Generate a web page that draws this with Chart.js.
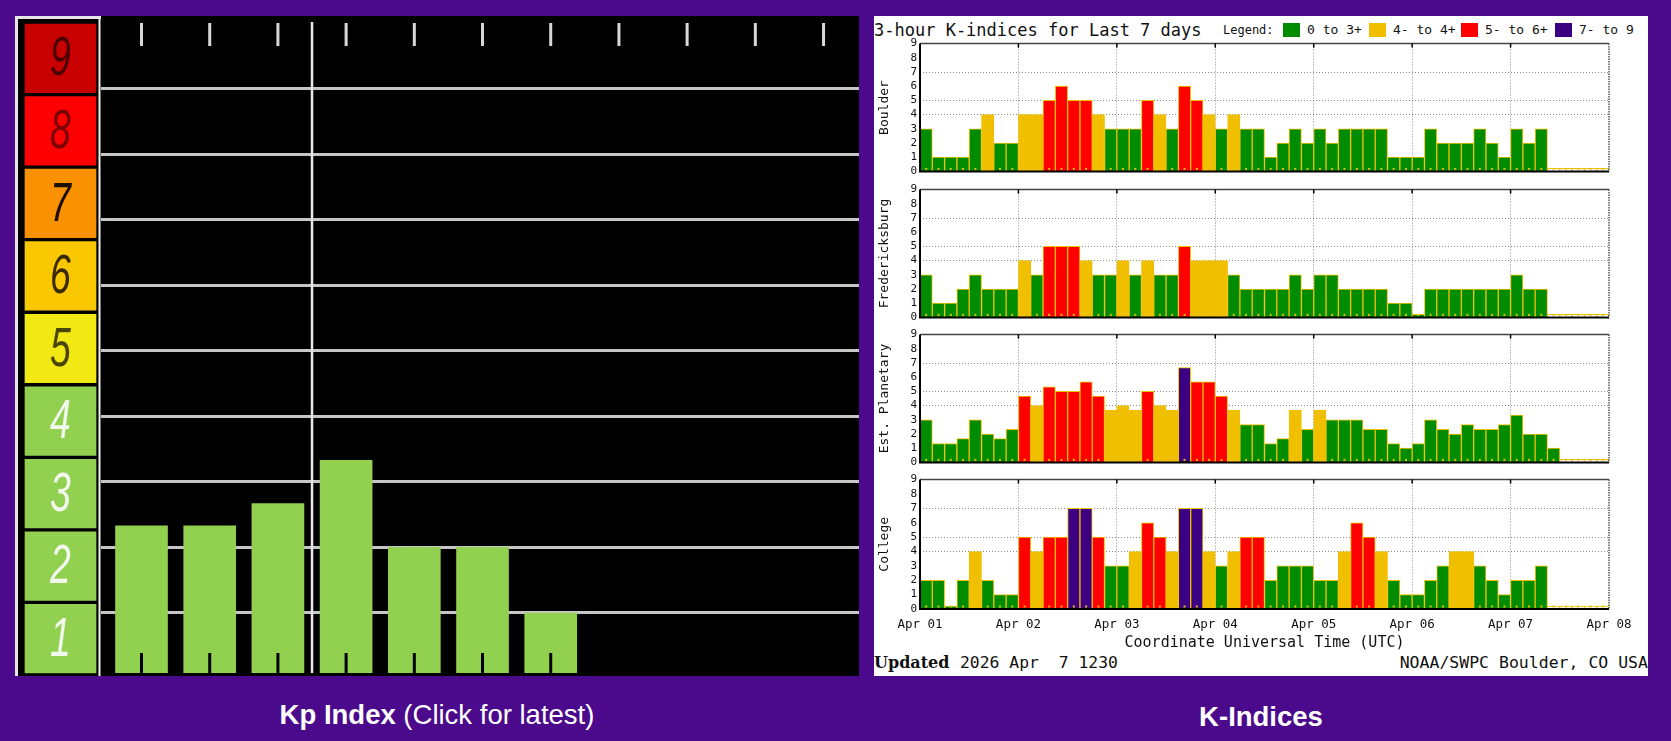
<!DOCTYPE html>
<html>
<head>
<meta charset="utf-8">
<title>Kp Index / K-Indices</title>
<script src="https://cdn.jsdelivr.net/npm/chart.js@4.4.1/dist/chart.umd.min.js"></script>
<style>
  body { margin:0; width:1671px; height:741px; background:#4b0a8b; position:relative; overflow:hidden; font-family:'Liberation Sans', Arial, sans-serif; }
  .abs { position:absolute; }
  .mono { font-family:'DejaVu Sans Mono', monospace; color:#111; white-space:pre; }
  #kpPanel { left:15px; top:16px; width:844px; height:660px; background:#000; }
  #kPanel { left:874px; top:16px; width:774px; height:660px; background:#fff; }
  .caption { color:#fff; font-size:27.5px; text-align:center; line-height:30px; }
</style>
</head>
<body>
<div class="abs" id="kpPanel"></div>
<div class="abs" id="kPanel"></div>
<canvas id="kpScale" class="abs" width="86" height="660" style="left:15px;top:16px"></canvas>
<canvas id="kpChart" class="abs" width="758" height="657" style="left:101px;top:16px"></canvas>

<div class="abs mono" style="left:874px;top:20px;font-size:17px;line-height:20px">3-hour K-indices for Last 7 days</div>
<div class="abs mono" style="left:1223px;top:21px;font-size:12px;line-height:18px">Legend:</div>
<div id="legend"></div>

<div class="abs" style="left:874px;top:653px;font:bold 16px 'DejaVu Serif', serif;line-height:20px;color:#111">Updated</div>
<div class="abs mono" style="left:960px;top:653px;font-size:16.4px;line-height:20px">2026 Apr  7 1230</div>
<div class="abs mono" style="right:23px;top:653px;font-size:16.5px;line-height:20px">NOAA/SWPC Boulder, CO USA</div>

<div class="abs caption" style="left:15px;width:844px;top:700px"><b>Kp Index</b> (Click for latest)</div>
<div class="abs caption" style="left:874px;width:774px;top:702px"><b>K-Indices</b></div>

<script>
// ---- data ----
const dayLabels = ['Apr 01', 'Apr 02', 'Apr 03', 'Apr 04', 'Apr 05', 'Apr 06', 'Apr 07', 'Apr 08'];
const stationNames = ['Boulder', 'Fredericksburg', 'Est. Planetary', 'College'];

// 8 three-hour values per day, Apr 01 .. Apr 07 (null = not yet measured)
const boulderK = [
  3, 1, 1, 1, 3, 4, 2, 2,
  4, 4, 5, 6, 5, 5, 4, 3,
  3, 3, 5, 4, 3, 6, 5, 4,
  3, 4, 3, 3, 1, 2, 3, 2,
  3, 2, 3, 3, 3, 3, 1, 1,
  1, 3, 2, 2, 2, 3, 2, 1,
  3, 2, 3, null, null, null, null, null
];
const fredericksburgK = [
  3, 1, 1, 2, 3, 2, 2, 2,
  4, 3, 5, 5, 5, 4, 3, 3,
  4, 3, 4, 3, 3, 5, 4, 4,
  4, 3, 2, 2, 2, 2, 3, 2,
  3, 3, 2, 2, 2, 2, 1, 1,
  0, 2, 2, 2, 2, 2, 2, 2,
  3, 2, 2, null, null, null, null, null
];
const planetaryK = [
  3, 1.33, 1.33, 1.67, 3, 2, 1.67, 2.33,
  4.67, 4, 5.33, 5, 5, 5.67, 4.67, 3.67,
  4, 3.67, 5, 4, 3.67, 6.67, 5.67, 5.67,
  4.67, 3.67, 2.67, 2.67, 1.33, 1.67, 3.67, 2.33,
  3.67, 3, 3, 3, 2.33, 2.33, 1.33, 1,
  1.33, 3, 2.33, 2, 2.67, 2.33, 2.33, 2.67,
  3.33, 2, 2, 1, null, null, null, null
];
const collegeK = [
  2, 2, 0, 2, 4, 2, 1, 1,
  5, 4, 5, 5, 7, 7, 5, 3,
  3, 4, 6, 5, 4, 7, 7, 4,
  3, 4, 5, 5, 2, 3, 3, 3,
  2, 2, 4, 6, 5, 4, 2, 1,
  1, 2, 3, 4, 4, 3, 2, 1,
  2, 2, 3, null, null, null, null, null
];

// latest Kp values (left panel)
const kpRecent = [2.33, 2.33, 2.67, 3.33, 2, 2, 1];
const kpLevels = [1, 2, 3, 4, 5, 6, 7, 8, 9];

const legendLabels = ['0 to 3+', '4- to 4+', '5- to 6+', '7- to 9'];

// ---- styles ----
const kBandColors = ['#008c00', '#f0c000', '#ff0000', '#3c0082'];
const kpLevelColors = ['#92d050', '#92d050', '#92d050', '#92d050', '#f2e914', '#fac800', '#f99100', '#ff0000', '#c80000'];
const kpDigitColors = ['#f2f8ec', '#f2f8ec', '#f2f8ec', '#f2f8ec', '#4a4500', '#3b2a00', '#1a0e00', '#7a0000', '#4a0000'];
const mono = 'DejaVu Sans Mono';

Chart.defaults.color = '#111';
Chart.defaults.font.family = mono;

function kColor(v) {
  if (v == null) return '#ffffff';
  if (v < 3.5) return kBandColors[0];
  if (v < 4.5) return kBandColors[1];
  if (v < 6.5) return kBandColors[2];
  return kBandColors[3];
}

// legend row
const legendX = [1283, 1369, 1461, 1555];
const legendBox = document.getElementById('legend');
legendLabels.forEach((txt, i) => {
  const sw = document.createElement('div');
  sw.className = 'abs';
  sw.style.cssText = `left:${legendX[i]}px;top:23px;width:17px;height:14px;background:${kBandColors[i]}`;
  legendBox.appendChild(sw);
  const lb = document.createElement('div');
  lb.className = 'abs mono';
  lb.style.cssText = `left:${legendX[i] + 24}px;top:20px;font-size:13px;line-height:20px`;
  lb.textContent = txt;
  legendBox.appendChild(lb);
});

// ---- left panel: colour scale column ----
const scaleDigits = {
  id: 'scaleDigits',
  beforeDraw(chart) {
    const { ctx, width, height } = chart;
    ctx.save();
    ctx.strokeStyle = '#e6e6e6';
    ctx.lineWidth = 3;
    ctx.beginPath();
    ctx.moveTo(1.5, height); ctx.lineTo(1.5, 1.5); ctx.lineTo(width, 1.5);
    ctx.stroke();
    ctx.strokeStyle = '#f0f0f0';
    ctx.lineWidth = 2;
    ctx.beginPath();
    ctx.moveTo(width - 1.5, 1); ctx.lineTo(width - 1.5, height);
    ctx.stroke();
    ctx.restore();
  },
  afterDatasetsDraw(chart) {
    const { ctx } = chart;
    kpLevels.forEach((lv, i) => {
      const el = chart.getDatasetMeta(i).data[0];
      ctx.save();
      ctx.translate(el.x, (el.y + el.base) / 2 + 2);
      ctx.scale(0.72, 1.05);
      ctx.font = "italic 52px 'Liberation Sans', sans-serif";
      ctx.textAlign = 'center';
      ctx.textBaseline = 'middle';
      ctx.fillStyle = kpDigitColors[i];
      ctx.fillText(String(lv), 0, 0);
      ctx.restore();
    });
  }
};

new Chart(document.getElementById('kpScale'), {
  type: 'bar',
  data: {
    labels: [''],
    datasets: kpLevels.map((lv, i) => ({
      data: [1],
      backgroundColor: kpLevelColors[i],
      borderColor: '#000',
      borderWidth: 2,
      borderSkipped: false,
      borderRadius: 3,
      barPercentage: 1,
      categoryPercentage: 1
    }))
  },
  options: {
    responsive: false,
    animation: false,
    layout: { padding: { left: 8, right: 3, top: 6, bottom: 1 } },
    plugins: { legend: { display: false }, tooltip: { enabled: false } },
    scales: {
      x: { display: false, stacked: true },
      y: { display: false, stacked: true, min: 0, max: 9 }
    }
  },
  plugins: [scaleDigits]
});

// ---- left panel: Kp bars ----
const kpDecor = {
  id: 'kpDecor',
  afterDatasetsDraw(chart) {
    const { ctx, chartArea } = chart;
    const xs = chart.scales.x;
    ctx.save();
    // black notches at the foot of every bar
    ctx.strokeStyle = '#000';
    ctx.lineWidth = 3;
    chart.getDatasetMeta(0).data.forEach(el => {
      ctx.beginPath();
      ctx.moveTo(el.x, chartArea.bottom);
      ctx.lineTo(el.x, chartArea.bottom - 20);
      ctx.stroke();
    });
    // white ticks along the top
    ctx.strokeStyle = '#d8d8d8';
    for (let i = 0; i <= 10; i++) {
      const x = xs.getPixelForValue(i);
      ctx.beginPath();
      ctx.moveTo(x, 7);
      ctx.lineTo(x, 30);
      ctx.stroke();
    }
    // midnight line
    ctx.strokeStyle = '#e8e8e8';
    ctx.lineWidth = 2.5;
    const mx = xs.getPixelForValue(2.5);
    ctx.beginPath();
    ctx.moveTo(mx, 6);
    ctx.lineTo(mx, chartArea.bottom);
    ctx.stroke();
    ctx.restore();
  }
};

new Chart(document.getElementById('kpChart'), {
  type: 'bar',
  data: {
    datasets: [{
      data: kpRecent.map((v, i) => ({ x: i, y: v })),
      backgroundColor: '#92d050',
      barThickness: 52
    }]
  },
  options: {
    responsive: false,
    animation: false,
    layout: { padding: 0 },
    plugins: { legend: { display: false }, tooltip: { enabled: false } },
    scales: {
      x: { type: 'linear', min: -0.594, max: 10.52, offset: false, display: false, grid: { offset: false } },
      y: {
        min: 0.084, max: 10.11,
        ticks: { display: false, stepSize: 1 },
        border: { display: false },
        grid: {
          drawTicks: false,
          lineWidth: 3,
          color: c => (Number.isInteger(c.tick.value) && c.tick.value >= 1 && c.tick.value <= 9) ? '#c6c6c6' : 'rgba(0,0,0,0)'
        },
        afterFit: s => { s.width = 0; }
      }
    }
  },
  plugins: [kpDecor]
});

// ---- right panel: station K-index plots ----
const kFrame = {
  id: 'kFrame',
  afterDatasetsDraw(chart) {
    const { ctx } = chart;
    ctx.save();
    ctx.fillStyle = '#e8c000';
    chart.getDatasetMeta(0).data.forEach(el => {
      ctx.fillRect(el.x - 1, el.base - 3, 2, 2);
    });
    ctx.restore();
  },
  afterDraw(chart) {
    const { ctx, chartArea: a } = chart;
    const xs = chart.scales.x;
    ctx.save();
    ctx.strokeStyle = '#444';
    ctx.lineWidth = 1.5;
    ctx.beginPath(); ctx.moveTo(a.left, a.top); ctx.lineTo(a.right, a.top); ctx.stroke();
    ctx.setLineDash([1.5, 1]);
    ctx.strokeStyle = '#555';
    ctx.beginPath(); ctx.moveTo(a.right, a.top); ctx.lineTo(a.right, a.bottom); ctx.stroke();
    ctx.setLineDash([]);
    ctx.strokeStyle = '#000';
    ctx.lineWidth = 2;
    ctx.beginPath(); ctx.moveTo(a.left, a.top); ctx.lineTo(a.left, a.bottom); ctx.lineTo(a.right, a.bottom); ctx.stroke();
    ctx.lineWidth = 1.5;
    for (let d = 1; d < 7; d++) {
      const x = xs.getPixelForValue(d * 8);
      ctx.beginPath(); ctx.moveTo(x, a.top); ctx.lineTo(x, a.top + 4); ctx.stroke();
    }
    ctx.restore();
  }
};

const stationValues = [boulderK, fredericksburgK, planetaryK, collegeK];
const frameTops = [42, 188, 333, 478];

stationValues.forEach((vals, s) => {
  const last = s === stationValues.length - 1;
  const axisH = last ? 43 : 8;
  const cv = document.createElement('canvas');
  cv.width = 774;
  cv.height = 8 + 131 + axisH;
  cv.style.cssText = `position:absolute;left:874px;top:${frameTops[s] - 8}px`;
  document.body.appendChild(cv);

  new Chart(cv, {
    type: 'bar',
    data: {
      datasets: [{
        data: vals.map((v, i) => ({ x: i + 0.5, y: v == null ? 0 : v })),
        backgroundColor: c => kColor(vals[c.dataIndex]),
        borderColor: '#f0c000',
        borderWidth: 1,
        minBarLength: 3,
        barPercentage: 1,
        categoryPercentage: 1
      }]
    },
    options: {
      responsive: false,
      animation: false,
      layout: { padding: { left: 0, right: 39, top: 8, bottom: 0 } },
      plugins: { legend: { display: false }, tooltip: { enabled: false } },
      scales: {
        x: {
          type: 'linear', min: 0, max: 56, offset: false,
          ticks: {
            display: last, stepSize: 8, autoSkip: false, maxRotation: 0, padding: 8,
            font: { family: mono, size: 12.5 },
            callback: v => dayLabels[v / 8]
          },
          grid: {
            offset: false, drawTicks: false, lineWidth: 1,
            color: c => (c.tick && c.tick.value > 0 && c.tick.value < 56) ? '#8a8a8a' : 'rgba(0,0,0,0)'
          },
          border: { display: false, dash: [1, 2] },
          title: { display: last, text: 'Coordinate Universal Time (UTC)', font: { family: mono, size: 15 }, padding: 0 },
          afterFit: sc => { sc.height = axisH; }
        },
        y: {
          min: 0, max: 9,
          ticks: { stepSize: 1, autoSkip: false, padding: 3, font: { family: mono, size: 11 } },
          grid: {
            drawTicks: false, lineWidth: 1,
            color: c => [4, 5, 7].includes(c.tick.value) ? '#8a8a8a' : 'rgba(0,0,0,0)'
          },
          border: { display: false, dash: [1, 2] },
          title: { display: true, text: stationNames[s], font: { family: mono, size: 13 }, padding: { top: 3, bottom: 0 } },
          afterFit: sc => { sc.width = 46; }
        }
      }
    },
    plugins: [kFrame]
  });
});
</script>
</body>
</html>
